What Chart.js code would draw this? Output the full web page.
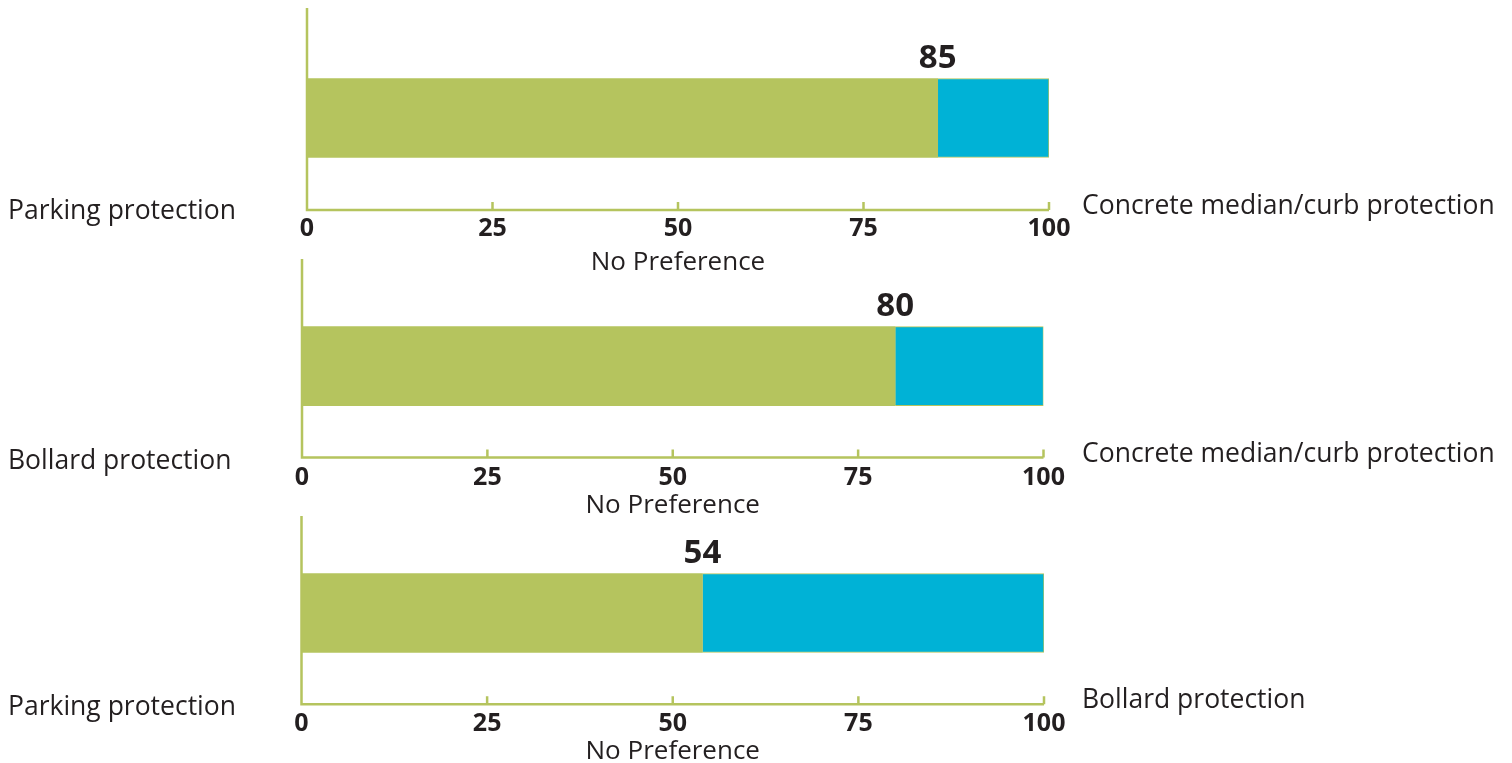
<!DOCTYPE html>
<html>
<head>
<meta charset="utf-8">
<title>Protection preference</title>
<script src="https://cdn.jsdelivr.net/npm/chart.js@4.4.1/dist/chart.umd.min.js"></script>
<style>
  html, body { margin: 0; padding: 0; background: #ffffff; }
  #wrap { position: relative; width: 1512px; height: 763px; overflow: hidden; }
  #wrap canvas { position: absolute; left: 0; top: 0; }
  .side {
    position: absolute;
    font-family: 'Open Sans', sans-serif;
    font-size: 26.5px;
    line-height: 26.5px;
    color: #231f20;
    white-space: nowrap;
  }
</style>
</head>
<body>
<div id="wrap"></div>
<script>
// Pairwise comparisons: share preferring the left option, remainder prefers the right one
const leftOptions  = ['Parking protection', 'Bollard protection', 'Parking protection'];
const rightOptions = ['Concrete median/curb protection', 'Concrete median/curb protection', 'Bollard protection'];
const leftShare  = [85, 80, 54];
const rightShare = [15, 20, 46];
const tickValues = [0, 25, 50, 75, 100];
const axisTitle  = 'No Preference';

const GREEN = '#b5c45e';
const BLUE  = '#00b2d6';
const INK   = '#231f20';
const W = 1512, H = 763;
const TITLE_SIZE = 26, TITLE_LH = 0.8;

// Page geometry of each comparison panel (pixels)
const panels = [
  { left: 307,   right: 1049,   axisTop: 8,   barCenter: 118,   axisY: 210,   tickPad: 4, titleMid: 262.5, leftMid: 210.5, rightMid: 205.5 },
  { left: 302,   right: 1043.5, axisTop: 259, barCenter: 366.2, axisY: 457.5, tickPad: 5, titleMid: 505.5, leftMid: 459.7, rightMid: 453 },
  { left: 301.5, right: 1044,   axisTop: 516, barCenter: 613,   axisY: 704.3, tickPad: 5, titleMid: 752,   leftMid: 706.5, rightMid: 699.5 }
];

// Left spine, baseline and short inward tick marks
function axisPlugin(p) {
  return {
    id: 'panelAxes',
    beforeDatasetsDraw(chart) {
      const ctx = chart.ctx;
      const xs = chart.scales.x;
      const yb = chart.chartArea.bottom;
      const x0 = xs.getPixelForValue(tickValues[0]);
      const x1 = xs.getPixelForValue(tickValues[tickValues.length - 1]);
      ctx.save();
      ctx.strokeStyle = GREEN;
      ctx.lineWidth = 2.5;
      ctx.lineJoin = 'miter';
      ctx.beginPath();
      ctx.moveTo(x0, p.axisTop);
      ctx.lineTo(x0, yb);
      ctx.lineTo(x1, yb);
      ctx.stroke();
      ctx.beginPath();
      tickValues.slice(1).forEach(v => {
        const px = xs.getPixelForValue(v);
        ctx.moveTo(px, yb);
        ctx.lineTo(px, yb - 8);
      });
      ctx.stroke();
      ctx.restore();
    }
  };
}

// Value of the left-option share printed above the end of its bar
const valuePlugin = {
  id: 'shareValue',
  afterDatasetsDraw(chart) {
    const ctx = chart.ctx;
    const bar = chart.getDatasetMeta(0).data[0];
    const { x, y, height } = bar.getProps(['x', 'y', 'height'], true);
    ctx.save();
    ctx.font = 'bold 33px "Open Sans"';
    ctx.fillStyle = INK;
    ctx.textAlign = 'center';
    ctx.textBaseline = 'alphabetic';
    ctx.fillText(String(chart.data.datasets[0].data[0]), x, y - height / 2 - 10.5);
    ctx.restore();
  }
};

function addSideLabel(text, x, mid) {
  const d = document.createElement('div');
  d.className = 'side';
  d.textContent = text;
  d.style.left = x + 'px';
  d.style.top = (mid - 14.1) + 'px';
  document.getElementById('wrap').appendChild(d);
}

function build() {
  const wrap = document.getElementById('wrap');
  panels.forEach((p, i) => {
    const canvas = document.createElement('canvas');
    canvas.width = W;
    canvas.height = H;
    wrap.appendChild(canvas);
    const xh = p.titleMid - p.axisY + TITLE_SIZE * TITLE_LH / 2;
    new Chart(canvas, {
      type: 'bar',
      data: {
        labels: [leftOptions[i] + ' / ' + rightOptions[i]],
        datasets: [
          { label: leftOptions[i],  data: [leftShare[i]],  backgroundColor: GREEN, borderWidth: 0, barThickness: 79 },
          { label: rightOptions[i], data: [rightShare[i]], backgroundColor: BLUE, borderColor: GREEN, borderWidth: 1, barThickness: 79 }
        ]
      },
      options: {
        indexAxis: 'y',
        responsive: false,
        animation: false,
        devicePixelRatio: 1,
        layout: {
          padding: {
            left: p.left,
            right: W - p.right,
            top: 2 * p.barCenter - p.axisY,
            bottom: H - p.axisY - xh
          }
        },
        plugins: { legend: { display: false }, tooltip: { enabled: false } },
        scales: {
          x: {
            type: 'linear',
            min: 0,
            max: 100,
            stacked: true,
            afterBuildTicks: s => { s.ticks = tickValues.map(v => ({ value: v })); },
            grid: { display: false, drawTicks: false },
            border: { display: false },
            ticks: {
              padding: p.tickPad,
              autoSkip: false,
              maxRotation: 0,
              color: INK,
              font: { family: 'Open Sans', size: 25, weight: 'bold' }
            },
            title: {
              display: true,
              text: axisTitle,
              color: INK,
              padding: 0,
              font: { family: 'Open Sans', size: TITLE_SIZE, lineHeight: TITLE_LH }
            },
            afterFit: s => { s.height = xh; }
          },
          y: { stacked: true, display: false }
        }
      },
      plugins: [axisPlugin(p), valuePlugin]
    });
    addSideLabel(leftOptions[i], 8, p.leftMid);
    addSideLabel(rightOptions[i], 1082, p.rightMid);
  });
}

Promise.all([
  document.fonts.load('26px "Open Sans"'),
  document.fonts.load('bold 25px "Open Sans"')
]).then(build, build);
</script>
</body>
</html>
